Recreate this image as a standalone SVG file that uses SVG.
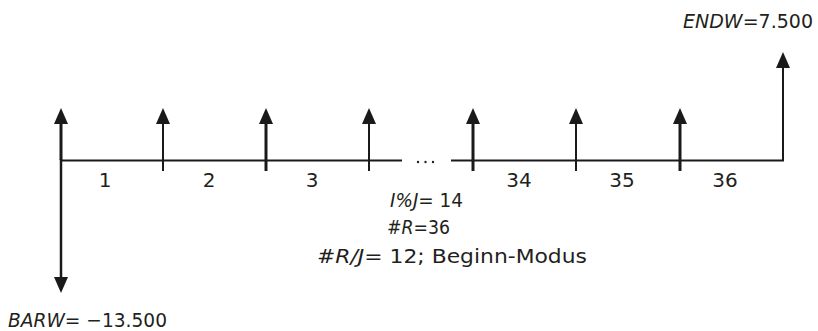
<svg xmlns="http://www.w3.org/2000/svg" width="818" height="331" viewBox="0 0 818 331">
<style>
  .ln { stroke: #1a1a1a; fill: none; stroke-linecap: butt; }
  .t { font-family: "DejaVu Sans", "Liberation Sans", sans-serif; font-size: 20px; fill: #231f20; }
  .n { text-anchor: middle; }
  .it { font-style: italic; }
</style>
<defs>
  <marker id="ah" viewBox="0 -7 16 14" refX="2" refY="0" markerWidth="16" markerHeight="14" markerUnits="userSpaceOnUse" orient="auto">
    <path d="M0,-7 L16,0 L0,7 Z" fill="#1a1a1a"/>
  </marker>
</defs>
<rect width="818" height="331" fill="#ffffff"/>
<g id="connectors">
  <path class="ln" stroke-width="2" d="M61,160.5 H402"/>
  <path class="ln" stroke-width="2" d="M451,160.5 H783 V67"/>
  <path class="ln" stroke-width="3" d="M61,160 V122" marker-end="url(#ah)"/>
  <path class="ln" stroke-width="2" d="M163,171 V122" marker-end="url(#ah)"/>
  <path class="ln" stroke-width="3" d="M266,171 V122" marker-end="url(#ah)"/>
  <path class="ln" stroke-width="2" d="M369,171 V122" marker-end="url(#ah)"/>
  <path class="ln" stroke-width="3" d="M473,171 V122" marker-end="url(#ah)"/>
  <path class="ln" stroke-width="2" d="M576,171 V122" marker-end="url(#ah)"/>
  <path class="ln" stroke-width="3" d="M680,171 V122" marker-end="url(#ah)"/>
  <path class="ln" stroke-width="2" d="M783,161 V66" marker-end="url(#ah)"/>
  <path class="ln" stroke-width="2.5" d="M61,159 V279" marker-end="url(#ah)"/>
</g>
<g id="ellipsis">
  <circle cx="418" cy="162" r="1.2" fill="#231f20"/>
  <circle cx="425.5" cy="162" r="1.2" fill="#231f20"/>
  <circle cx="433" cy="162" r="1.2" fill="#231f20"/>
</g>
<g id="period-labels">
  <text class="t n" x="105" y="187">1</text>
  <text class="t n" x="209" y="187">2</text>
  <text class="t n" x="312" y="187">3</text>
  <text class="t n" x="519" y="187">34</text>
  <text class="t n" x="622" y="187">35</text>
  <text class="t n" x="725" y="187">36</text>
</g>
<g id="params">
  <text class="t" x="390" y="207" textLength="73" lengthAdjust="spacingAndGlyphs"><tspan class="it">I%J</tspan>= 14</text>
  <text class="t" x="387" y="234" textLength="63" lengthAdjust="spacingAndGlyphs"><tspan class="it">#R</tspan>=36</text>
  <text class="t" x="317" y="263" textLength="270" lengthAdjust="spacingAndGlyphs"><tspan class="it">#R/J</tspan>= 12; Beginn-Modus</text>
</g>
<g id="barw">
  <text class="t" x="8" y="327" textLength="159" lengthAdjust="spacingAndGlyphs"><tspan class="it">BARW=</tspan> −13.500</text>
</g>
<g id="endw">
  <text class="t" x="683" y="28" textLength="130" lengthAdjust="spacingAndGlyphs"><tspan class="it">ENDW=</tspan>7.500</text>
</g>
</svg>
